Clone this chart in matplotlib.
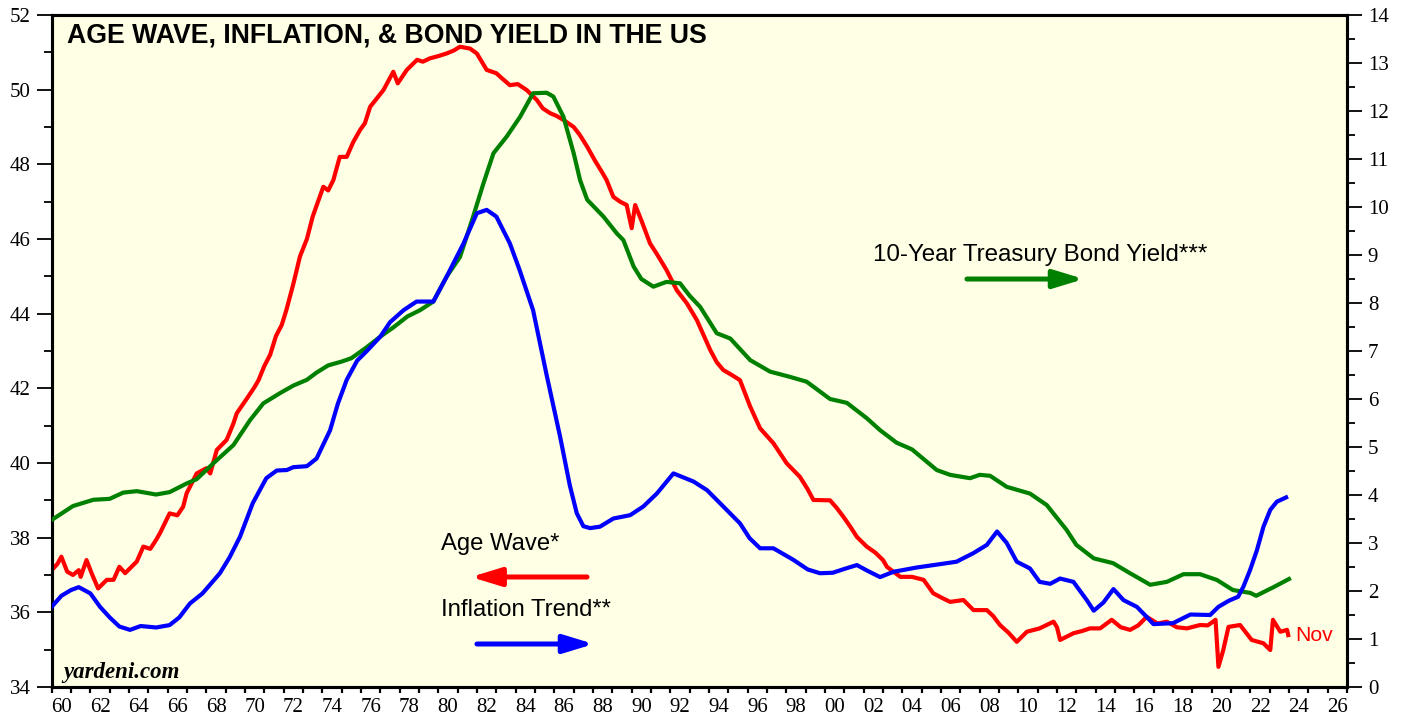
import matplotlib
matplotlib.use("Agg")
import matplotlib.pyplot as plt
import numpy as np
from matplotlib.ticker import MultipleLocator, FixedLocator, NullFormatter

# Age Wave* (left axis)
age_years = [1960.0, 1960.3, 1960.5, 1960.8, 1961.1, 1961.4, 1961.5, 1961.8, 1962.07, 1962.4,
             1962.85, 1963.2, 1963.5, 1963.8, 1964.05, 1964.4, 1964.74, 1965.1, 1965.4, 1965.6,
             1966.1, 1966.5, 1966.8, 1966.98, 1967.5, 1968.0, 1968.2, 1968.54, 1969.05, 1969.4,
             1969.57, 1970.1, 1970.5, 1970.7, 1971.0, 1971.3, 1971.6, 1971.9, 1972.14, 1972.5,
             1972.84, 1973.2, 1973.5, 1974.05, 1974.3, 1974.57, 1974.9, 1975.26, 1975.6, 1975.95,
             1976.2, 1976.47, 1977.16, 1977.67, 1977.9, 1978.37, 1978.9, 1979.2, 1979.57, 1980.0,
             1980.43, 1980.8, 1981.12, 1981.64, 1981.99, 1982.5, 1983.0, 1983.3, 1983.7, 1984.1,
             1984.57, 1985.1, 1985.4, 1985.78, 1986.1, 1986.47, 1987.0, 1987.3, 1987.7, 1988.1,
             1988.5, 1988.7, 1989.05, 1989.4, 1989.74, 1990.0, 1990.18, 1990.5, 1990.95, 1991.3,
             1991.8, 1992.33, 1992.85, 1993.37, 1994.06, 1994.4, 1994.74, 1995.2, 1995.6, 1996.13,
             1996.64, 1997.33, 1998.02, 1998.7, 1999.1, 1999.4, 2000.26, 2000.6, 2000.95, 2001.3,
             2001.65, 2002.16, 2002.6, 2003.0, 2003.2, 2003.9, 2004.5, 2005.1, 2005.6, 2006.0,
             2006.47, 2007.16, 2007.68, 2008.37, 2008.7, 2009.05, 2009.5, 2009.92, 2010.44, 2011.1,
             2011.82, 2012.0, 2012.16, 2012.85, 2013.3, 2013.7, 2014.23, 2014.83, 2015.3, 2015.78,
             2016.2, 2016.64, 2017.2, 2017.68, 2018.2, 2018.72, 2019.4, 2019.8, 2020.2, 2020.35,
             2020.6, 2020.87, 2021.47, 2022.07, 2022.68, 2023.03, 2023.17, 2023.55, 2023.9, 2023.96]
age_wave = [37.13, 37.3, 37.49, 37.09, 37.0, 37.13, 36.95, 37.4, 37.04, 36.64,
            36.87, 36.87, 37.22, 37.05, 37.18, 37.36, 37.76, 37.7, 37.94, 38.12,
            38.65, 38.6, 38.83, 39.19, 39.72, 39.86, 39.72, 40.35, 40.62, 41.06,
            41.33, 41.73, 42.04, 42.22, 42.6, 42.9, 43.4, 43.7, 44.1, 44.8,
            45.53, 46.0, 46.6, 47.4, 47.3, 47.58, 48.2, 48.2, 48.6, 48.92,
            49.1, 49.54, 49.99, 50.48, 50.17, 50.53, 50.8, 50.75, 50.84, 50.9,
            50.97, 51.05, 51.15, 51.1, 50.97, 50.53, 50.44, 50.3, 50.12, 50.15,
            49.99, 49.72, 49.5, 49.37, 49.3, 49.19, 49.0, 48.8, 48.47, 48.1,
            47.76, 47.58, 47.13, 47.0, 46.91, 46.29, 46.91, 46.5, 45.88, 45.6,
            45.17, 44.63, 44.28, 43.83, 43.03, 42.7, 42.49, 42.35, 42.22, 41.51,
            40.93, 40.53, 39.99, 39.63, 39.3, 39.01, 39.0, 38.8, 38.56, 38.3,
            38.02, 37.76, 37.6, 37.4, 37.22, 36.95, 36.95, 36.87, 36.51, 36.4,
            36.28, 36.33, 36.06, 36.06, 35.9, 35.66, 35.45, 35.21, 35.48, 35.57,
            35.75, 35.6, 35.26, 35.44, 35.5, 35.57, 35.57, 35.8, 35.6, 35.53,
            35.65, 35.88, 35.7, 35.75, 35.6, 35.57, 35.66, 35.65, 35.8, 34.54,
            34.99, 35.61, 35.66, 35.26, 35.17, 34.99, 35.8, 35.48, 35.53, 35.39]

# Inflation Trend** (right axis)
infl_years = [1960.0, 1960.5, 1961.0, 1961.4, 1962.0, 1962.5, 1963.0, 1963.5, 1964.05, 1964.6,
              1965.4, 1966.1, 1966.6, 1967.15, 1967.8, 1968.7, 1969.2, 1969.74, 1970.4, 1971.1,
              1971.64, 1972.16, 1972.5, 1973.2, 1973.7, 1974.4, 1974.8, 1975.26, 1975.8, 1976.3,
              1977.0, 1977.5, 1978.2, 1978.87, 1979.74, 1980.43, 1981.3, 1981.99, 1982.5, 1983.0,
              1983.7, 1984.2, 1984.9, 1985.6, 1986.3, 1986.8, 1987.16, 1987.5, 1987.85, 1988.36,
              1989.05, 1989.92, 1990.6, 1991.3, 1992.16, 1993.2, 1993.9, 1994.74, 1995.6, 1996.1,
              1996.64, 1997.33, 1998.36, 1999.1, 1999.74, 2000.4, 2001.0, 2001.65, 2002.2, 2002.85,
              2003.54, 2004.75, 2005.96, 2006.8, 2007.68, 2008.37, 2008.9, 2009.4, 2009.92, 2010.6,
              2011.1, 2011.65, 2012.16, 2012.85, 2013.54, 2013.9, 2014.4, 2014.92, 2015.44, 2016.13,
              2016.64, 2016.99, 2018.0, 2018.9, 2019.92, 2020.35, 2020.9, 2021.37, 2021.64, 2021.99,
              2022.34, 2022.68, 2023.03, 2023.37, 2023.85]
inflation = [1.67, 1.9, 2.02, 2.08, 1.95, 1.67, 1.45, 1.26, 1.19, 1.27,
             1.24, 1.29, 1.45, 1.74, 1.95, 2.37, 2.7, 3.13, 3.83, 4.35,
             4.51, 4.52, 4.58, 4.6, 4.76, 5.35, 5.9, 6.4, 6.8, 7.0,
             7.3, 7.6, 7.85, 8.03, 8.03, 8.55, 9.24, 9.87, 9.94, 9.8,
             9.24, 8.69, 7.85, 6.5, 5.21, 4.2, 3.62, 3.35, 3.31, 3.34,
             3.51, 3.58, 3.76, 4.03, 4.45, 4.28, 4.1, 3.76, 3.41, 3.1,
             2.89, 2.89, 2.65, 2.45, 2.37, 2.38, 2.46, 2.54, 2.42, 2.29,
             2.4, 2.49, 2.56, 2.61, 2.79, 2.96, 3.24, 3.0, 2.61, 2.47,
             2.19, 2.15, 2.26, 2.19, 1.81, 1.59, 1.76, 2.04, 1.81, 1.67,
             1.46, 1.31, 1.33, 1.51, 1.5, 1.67, 1.8, 1.88, 2.09, 2.44,
             2.85, 3.34, 3.69, 3.86, 3.95]

# 10-Year Treasury Bond Yield*** (right axis)
bond_years = [1960.0, 1961.1, 1962.15, 1963.0, 1963.7, 1964.4, 1965.4, 1966.1, 1966.98, 1967.5,
              1968.36, 1969.4, 1970.26, 1970.95, 1971.8, 1972.5, 1973.2, 1973.7, 1974.3, 1975.0,
              1975.5, 1976.2, 1977.0, 1977.7, 1978.4, 1979.05, 1979.74, 1980.43, 1981.12, 1981.8,
              1982.33, 1982.85, 1983.54, 1984.23, 1984.9, 1985.6, 1985.95, 1986.47, 1987.0, 1987.33,
              1987.7, 1988.54, 1989.23, 1989.57, 1990.1, 1990.5, 1991.12, 1991.8, 1992.5, 1993.0,
              1993.54, 1994.4, 1995.1, 1996.13, 1997.16, 1998.2, 1999.05, 2000.26, 2001.13, 2002.16,
              2002.85, 2003.7, 2004.5, 2005.78, 2006.47, 2007.5, 2008.0, 2008.54, 2009.4, 2010.6,
              2011.47, 2012.5, 2013.0, 2013.9, 2014.9, 2015.78, 2016.82, 2017.68, 2018.54, 2019.4,
              2020.27, 2021.1, 2022.0, 2022.3, 2023.2, 2024.0]
bond_yield = [3.48, 3.77, 3.9, 3.92, 4.05, 4.08, 4.01, 4.06, 4.24, 4.33,
              4.66, 5.04, 5.56, 5.91, 6.12, 6.28, 6.4, 6.55, 6.7, 6.78,
              6.85, 7.05, 7.3, 7.5, 7.72, 7.85, 8.03, 8.55, 8.96, 9.8,
              10.49, 11.12, 11.47, 11.88, 12.37, 12.38, 12.3, 11.88, 11.12, 10.56,
              10.15, 9.8, 9.45, 9.31, 8.76, 8.5, 8.34, 8.44, 8.41, 8.15,
              7.92, 7.37, 7.26, 6.81, 6.57, 6.46, 6.36, 6.0, 5.92, 5.6,
              5.35, 5.09, 4.95, 4.52, 4.42, 4.35, 4.42, 4.4, 4.17, 4.03,
              3.79, 3.27, 2.96, 2.68, 2.58, 2.37, 2.13, 2.19, 2.35, 2.35,
              2.23, 2.02, 1.96, 1.9, 2.08, 2.25]

x_labels = ['60', '62', '64', '66', '68', '70', '72', '74', '76', '78', '80', '82', '84',
            '86', '88', '90', '92', '94', '96', '98', '00', '02', '04', '06', '08', '10',
            '12', '14', '16', '18', '20', '22', '24', '26']

RED = '#ff0000'
BLUE = '#0000ff'
GREEN = '#008000'
SANS = 'Liberation Sans'
SERIF = 'Liberation Serif'
LW = 3.0

fig = plt.figure(figsize=(14.07, 7.19), dpi=100)
ax = fig.add_axes([51.7 / 1407, 32 / 719, 1295.3 / 1407, 672 / 719])
ax.set_facecolor('#ffffe5')

# right-hand scale (labels) and a hidden twin for the right-axis lines
ax2 = ax.twinx()
ax2.patch.set_visible(False)
ax_r = ax.twinx()
ax_r.axis('off')

ax_r.plot(bond_years, bond_yield, color=GREEN, lw=LW, zorder=2)
ax_r.plot(infl_years, inflation, color=BLUE, lw=LW, zorder=2)
ax.plot(age_years, age_wave, color=RED, lw=LW, zorder=3)

ax.set_xlim(1960, 2027)
ax.set_ylim(34, 52)
ax2.set_ylim(0, 14)
ax_r.set_ylim(0, 14)

for a in (ax, ax2):
    for s in a.spines.values():
        s.set_linewidth(2.2)
        s.set_color('black')

ax.yaxis.set_major_locator(MultipleLocator(2))
ax.yaxis.set_minor_locator(MultipleLocator(1))
ax2.yaxis.set_major_locator(MultipleLocator(1))
ax2.yaxis.set_minor_locator(MultipleLocator(0.5))

ax.tick_params(axis='y', which='major', direction='out', length=11, width=1.3, pad=4,
               labelsize=15, labelfontfamily=SERIF)
ax.tick_params(axis='y', which='minor', direction='out', length=6, width=1.3)
ax2.tick_params(axis='y', which='major', direction='out', length=11, width=1.3, pad=4,
                labelsize=15, labelfontfamily=SERIF)
ax2.tick_params(axis='y', which='minor', direction='out', length=6, width=1.3)

# x: a tick every year, labels centred in even years
ax.xaxis.set_major_locator(MultipleLocator(1))
ax.xaxis.set_major_formatter(NullFormatter())
label_pos = [1960.5 + 2 * i for i in range(len(x_labels))]
ax.set_xticks(label_pos, x_labels, minor=True)
ax.tick_params(axis='x', which='major', direction='out', length=4, width=1.6)
ax.tick_params(axis='x', which='minor', length=0, pad=8, labelsize=15, labelfontfamily=SERIF)

ax.text(0.0118, 0.970, 'AGE WAVE, INFLATION, & BOND YIELD IN THE US', transform=ax.transAxes,
        fontsize=19.2, fontweight='bold', family=SANS, va='center', ha='left', zorder=5)
ax.text(0.3006, 0.2128, 'Age Wave*', transform=ax.transAxes, fontsize=17.2, family=SANS,
        va='center', ha='left')
ax.text(0.3006, 0.1146, 'Inflation Trend**', transform=ax.transAxes, fontsize=17.2, family=SANS,
        va='center', ha='left')
ax.text(0.634, 0.643, '10-Year Treasury Bond Yield***', transform=ax.transAxes, fontsize=17.4,
        family=SANS, va='center', ha='left')
ax.text(0.0087, 0.0223, 'yardeni.com', transform=ax.transAxes, fontsize=16.5, family=SERIF,
        fontweight='bold', fontstyle='italic', va='center', ha='left')
ax.text(0.96, 0.0759, 'Nov', transform=ax.transAxes, fontsize=15.2, family=SANS, color=RED,
        va='center', ha='left')

arrow_style = '-|>,head_length=1.8,head_width=0.55'
for tail, head, y, c in [(0.4133, 0.3236, 0.1637, RED),
                         (0.3283, 0.4185, 0.064, BLUE),
                         (0.7066, 0.7968, 0.6071, GREEN)]:
    ax.annotate('', xy=(head, y), xytext=(tail, y), xycoords='axes fraction',
                arrowprops=dict(arrowstyle=arrow_style, color=c, lw=3.6, shrinkA=0, shrinkB=0,
                                mutation_scale=10, capstyle='round'))

fig.savefig('out.png', dpi=100)
